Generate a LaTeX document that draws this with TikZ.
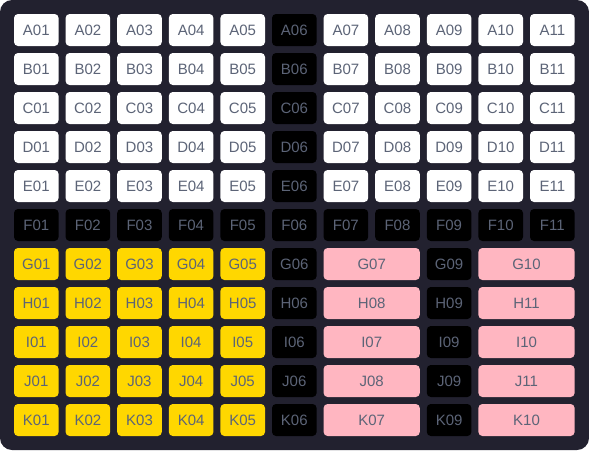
\documentclass[tikz,border=0pt]{standalone}
\usepackage{fontspec}
\setmainfont{Liberation Sans}
\definecolor{bgc}{HTML}{22212F}
\definecolor{txt}{HTML}{5C6477}
\definecolor{gold}{HTML}{FFD700}
\definecolor{pinkc}{HTML}{FFB6C1}
\tikzset{
  cell/.style={rounded corners=4pt, inner sep=0pt, minimum height=32pt, minimum width=44.6pt, text=txt, font=\fontsize{15}{15}\selectfont},
  wcell/.style={cell, fill=white},
  bcell/.style={cell, fill=black},
  gcell/.style={cell, fill=gold},
  pcell/.style={cell, fill=pinkc, minimum width=96.2pt},
}
\newcommand{\cx}[1]{\fpeval{14+(#1-1)*51.6+22.3}pt}
\newcommand{\ry}[1]{\fpeval{-(14+(#1-1)*39+16)}pt}
\newcommand{\px}[1]{\fpeval{14+(#1-1)*51.6+48.1}pt}
\begin{document}
\begin{tikzpicture}[x=1pt,y=1pt]
\fill[bgc, rounded corners=12pt] (0,0) rectangle (589,-450);
\useasboundingbox (0,0) rectangle (589,-450);
% rows A-E
\foreach \L [count=\r] in {A,B,C,D,E}{
  \foreach \c in {1,...,11}{
    \pgfmathsetmacro{\num}{\c<10 ? "0\c" : "\c"}
    \ifnum\c=6
      \node[bcell] (\L\c) at (\cx{\c},\ry{\r}) {\L\num};
    \else
      \node[wcell] (\L\c) at (\cx{\c},\ry{\r}) {\L\num};
    \fi
  }
}
% row F
\foreach \c in {1,...,11}{
  \pgfmathsetmacro{\num}{\c<10 ? "0\c" : "\c"}
  \node[bcell] (F\c) at (\cx{\c},\ry{6}) {F\num};
}
% rows G-K
\foreach \L/\pa/\pb [count=\k] in {G/07/10, H/08/11, I/07/10, J/08/11, K/07/10}{
  \pgfmathtruncatemacro{\r}{\k+6}
  \foreach \c in {1,...,5}{
    \node[gcell] (\L\c) at (\cx{\c},\ry{\r}) {\L0\c};
  }
  \node[bcell] (\L6) at (\cx{6},\ry{\r}) {\L06};
  \node[pcell] (\L7) at (\px{7},\ry{\r}) {\L\pa};
  \node[bcell] (\L9) at (\cx{9},\ry{\r}) {\L09};
  \node[pcell] (\L10) at (\px{10},\ry{\r}) {\L\pb};
}
\end{tikzpicture}
\end{document}
